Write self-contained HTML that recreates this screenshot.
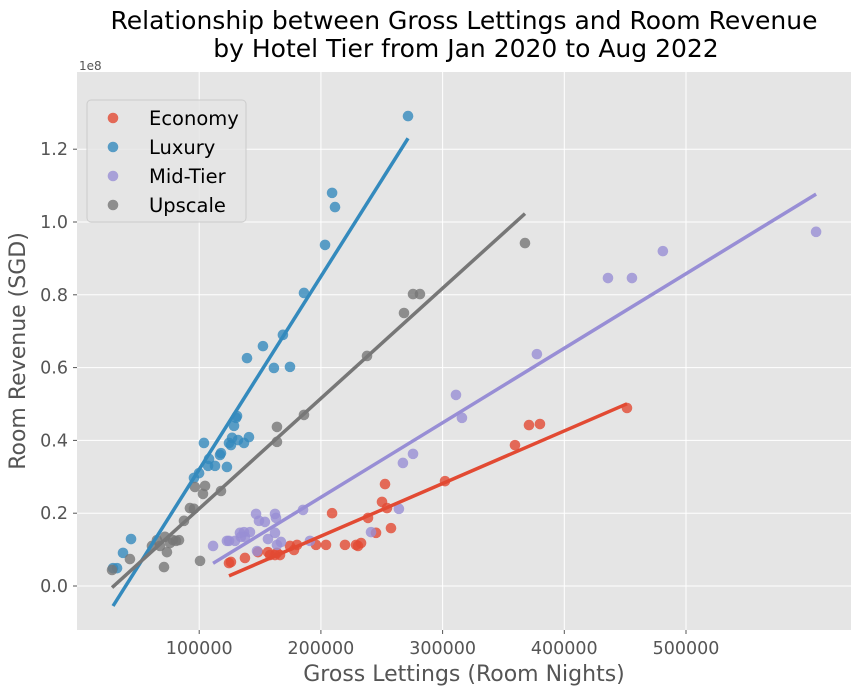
<!DOCTYPE html>
<html><head><meta charset="utf-8"><style>
body{margin:0;background:#fff;}
svg{display:block;font-family:"DejaVu Sans","Liberation Sans",sans-serif;}
</style></head><body>
<svg id="chart" width="861" height="695"></svg>
<script>
const economyX=[124.5,126.1,137.6,148.3,156.5,158.2,162.3,163.9,166.4,174.6,177.9,180.4,196.0,204.2,209.2,219.8,228.9,230.5,233.0,238.7,245.3,250.2,252.7,254.3,257.6,302.0,359.5,371.0,380.0,451.5];
const economyY=[0.063,0.066,0.077,0.093,0.093,0.085,0.085,0.091,0.085,0.110,0.099,0.113,0.113,0.113,0.200,0.113,0.113,0.110,0.118,0.187,0.146,0.231,0.280,0.214,0.159,0.288,0.387,0.442,0.445,0.489];
const luxuryX=[29.2,32.5,37.4,44.0,95.7,99.9,103.9,107.3,108.1,113.0,117.1,117.9,122.8,124.5,126.1,127.0,128.6,130.3,131.1,131.9,136.8,140.9,139.3,152.4,161.4,168.8,174.6,186.1,203.4,209.2,211.6,271.6];
const luxuryY=[0.049,0.049,0.091,0.129,0.297,0.310,0.393,0.330,0.349,0.330,0.360,0.365,0.327,0.393,0.387,0.407,0.440,0.462,0.467,0.401,0.393,0.409,0.626,0.659,0.599,0.690,0.602,0.805,0.937,1.080,1.041,1.291];
const upscaleX=[28.4,43.1,61.2,65.3,67.8,71.9,71.1,73.5,76.0,78.5,80.9,83.4,87.5,92.4,95.7,96.5,103.1,104.8,100.7,117.9,163.9,163.9,186.1,237.9,268.3,275.7,281.4,367.7];
const upscaleY=[0.044,0.074,0.110,0.126,0.110,0.135,0.052,0.093,0.118,0.126,0.124,0.126,0.179,0.214,0.212,0.272,0.253,0.275,0.069,0.261,0.396,0.437,0.470,0.632,0.750,0.802,0.802,0.942];
const midX=[111.4,122.8,124.5,129.4,134.3,136.8,137.6,133.5,141.7,146.7,149.1,154.0,147.5,156.5,162.3,163.1,162.3,163.9,167.2,185.3,191.0,241.2,264.1,267.4,275.7,311.0,315.9,377.5,435.9,455.6,481.0,606.9];
const midY=[0.110,0.124,0.124,0.124,0.135,0.148,0.135,0.146,0.148,0.198,0.179,0.176,0.096,0.129,0.198,0.187,0.146,0.113,0.121,0.209,0.124,0.148,0.212,0.338,0.363,0.525,0.462,0.637,0.846,0.846,0.920,0.973];
const xTicks=[100000,200000,300000,400000,500000];
const xTickLabels=["100000","200000","300000","400000","500000"];
const yTicks=[0,0.2,0.4,0.6,0.8,1.0,1.2];
const yTickLabels=["0.0","0.2","0.4","0.6","0.8","1.0","1.2"];
const seriesNames=["Economy","Luxury","Mid-Tier","Upscale"];

const NS="http://www.w3.org/2000/svg";
const svg=document.getElementById('chart');
const L=77,R=851,T=72,B=630;
const sx=v=>77.5+v*0.001217;
const sy=v=>586-v*364;
function mk(tag,attrs,parent){const e=document.createElementNS(NS,tag);for(const k in attrs)e.setAttribute(k,attrs[k]);(parent||svg).appendChild(e);return e;}

const bg=mk('rect',{x:L,y:T,width:R-L,height:B-T,fill:'#E5E5E5'});



xTicks.forEach((t,i)=>{const x=sx(t);
 const g=mk('line',{x1:x,x2:x,y1:T,y2:B,stroke:'#fff','stroke-width':1});
 
 
 mk('line',{x1:x,x2:x,y1:B,y2:B+4,stroke:'#555'});
 const tx=mk('text',{x:x,y:B+24,'text-anchor':'middle','font-size':17.5,fill:'#555'});tx.textContent=xTickLabels[i];
 
 
});
yTicks.forEach((t,i)=>{const y=sy(t);
 const g=mk('line',{x1:L,x2:R,y1:y,y2:y,stroke:'#fff','stroke-width':1});
 
 
 mk('line',{x1:L-4,x2:L,y1:y,y2:y,stroke:'#555'});
 const tx=mk('text',{x:L-9,y:y+6,'text-anchor':'end','font-size':17.5,fill:'#555'});tx.textContent=yTickLabels[i];
 
 
});

const series=[
 {name:'economy',xs:economyX,ys:economyY,c:'#E24A33'},
 {name:'luxury',xs:luxuryX,ys:luxuryY,c:'#348ABD'},
 {name:'mid-tier',xs:midX,ys:midY,c:'#988ED5'},
 {name:'upscale',xs:upscaleX,ys:upscaleY,c:'#777777'}];
series.forEach(s=>{
 s.xs.forEach((xv,i)=>{
  const p=mk('circle',{cx:sx(xv*1000),cy:sy(s.ys[i]),r:5.3,fill:s.c,'fill-opacity':0.8});
  
  
 });
});
series.forEach(s=>{
 const n=s.xs.length;let mx=0,my=0;s.xs.forEach((v,i)=>{mx+=v;my+=s.ys[i];});mx/=n;my/=n;
 let sxy=0,sxx=0;s.xs.forEach((v,i)=>{sxy+=(v-mx)*(s.ys[i]-my);sxx+=(v-mx)*(v-mx);});
 const b=sxy/sxx,a=my-b*mx;const x0=Math.min(...s.xs),x1=Math.max(...s.xs);
 const ln=mk('line',{x1:sx(x0*1000),y1:sy(a+b*x0),x2:sx(x1*1000),y2:sy(a+b*x1),stroke:s.c,'stroke-width':3.5});
 
 
});

const ex=mk('text',{x:79,y:70,'font-size':12,fill:'#555'});ex.textContent='1e8';


const t1=mk('text',{x:464,y:29,'text-anchor':'middle','font-size':25,fill:'#000'});t1.textContent='Relationship between Gross Lettings and Room Revenue';


const t2=mk('text',{x:466,y:57,'text-anchor':'middle','font-size':25,fill:'#000'});t2.textContent='by Hotel Tier from Jan 2020 to Aug 2022';


const xl=mk('text',{x:464,y:681,'text-anchor':'middle','font-size':22,fill:'#555'});xl.textContent='Gross Lettings (Room Nights)';


const yl=mk('text',{x:0,y:0,'text-anchor':'middle','font-size':22,fill:'#555',transform:'translate(25,351) rotate(-90)'});yl.textContent='Room Revenue (SGD)';



const lg=mk('rect',{x:87,y:100,width:159,height:122,rx:4,fill:'#E5E5E5',stroke:'#ccc','stroke-width':1,'fill-opacity':0.8});


const legendColors=['#E24A33','#348ABD','#988ED5','#777777'];
seriesNames.forEach((nm,i)=>{const y=118+i*29;
 const d=mk('circle',{cx:113,cy:y,r:5.3,fill:legendColors[i],'fill-opacity':0.8});
 
 
 const t=mk('text',{x:149,y:y+7,'font-size':19.5,fill:'#000'});t.textContent=nm;
 
 
});
</script>
</body></html>
